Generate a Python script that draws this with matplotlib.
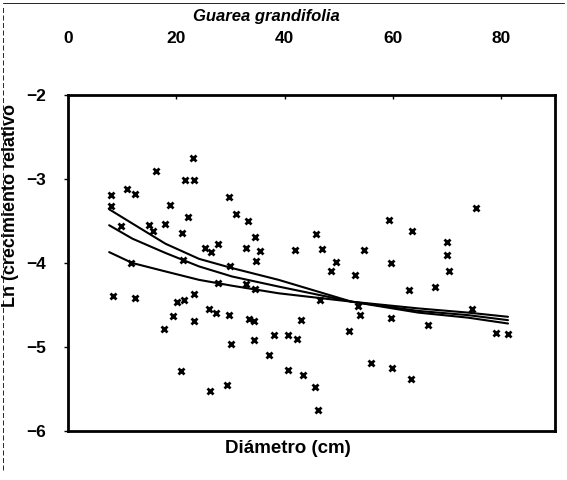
import matplotlib
matplotlib.use('Agg')
import matplotlib.pyplot as plt
from matplotlib.lines import Line2D

plt.rcParams['font.family'] = ['Liberation Sans', 'DejaVu Sans']

# ============================================================
# DATA
# ============================================================
diametro = [23.1, 16.2, 21.7, 23.2, 7.9, 10.9, 12.4, 29.7, 18.8, 7.9,
            22.2, 31.1, 33.2, 9.8, 14.9, 15.7, 18.0, 21.1, 34.6, 25.4,
            26.5, 27.8, 32.9, 35.4, 21.2, 30.0, 34.7, 11.6, 27.7, 32.9,
            34.6, 8.3, 12.3, 20.1, 21.4, 23.2, 26.0, 27.3, 29.7, 19.4,
            23.2, 33.4, 34.3, 17.7, 30.1, 34.3, 20.8, 29.4, 26.3, 75.3,
            59.3, 63.6, 70.1, 70.1, 45.8, 42.0, 47.0, 54.6, 49.5, 59.7,
            70.4, 48.6, 53.1, 63.0, 67.8, 46.6, 54.0, 59.7, 66.5, 74.7,
            79.0, 81.3, 43.1, 38.0, 40.6, 42.4, 52.0, 37.2, 40.6, 43.5,
            45.7, 46.1, 55.9, 59.8, 63.3, 53.5]
ln_crec = [-2.75, -2.91, -3.01, -3.01, -3.19, -3.12, -3.18, -3.21, -3.31, -3.32,
           -3.45, -3.42, -3.50, -3.56, -3.55, -3.62, -3.53, -3.64, -3.69, -3.82,
           -3.87, -3.77, -3.82, -3.86, -3.96, -4.04, -3.98, -4.00, -4.24, -4.25,
           -4.31, -4.39, -4.42, -4.46, -4.44, -4.37, -4.55, -4.60, -4.62, -4.63,
           -4.69, -4.67, -4.69, -4.79, -4.96, -4.92, -5.29, -5.45, -5.52, -3.35,
           -3.49, -3.62, -3.75, -3.90, -3.65, -3.85, -3.83, -3.85, -3.99, -4.00,
           -4.09, -4.10, -4.14, -4.32, -4.28, -4.44, -4.62, -4.66, -4.74, -4.55,
           -4.83, -4.84, -4.68, -4.86, -4.86, -4.91, -4.81, -5.10, -5.27, -5.33,
           -5.47, -5.75, -5.19, -5.25, -5.38, -4.51]

# fitted curves, values read at these diameters
curva_x = [7.6, 11.9, 18.0, 24.2, 30.3, 38.9, 52.4, 64.7, 73.9, 81.3]
curva_log = [-3.36, -3.53, -3.77, -3.95, -4.06, -4.20, -4.46, -4.59, -4.65, -4.72]
curva_pot = [-3.55, -3.71, -3.88, -4.04, -4.16, -4.28, -4.46, -4.57, -4.62, -4.68]
curva_exp = [-3.87, -4.00, -4.10, -4.20, -4.27, -4.36, -4.46, -4.54, -4.59, -4.64]

x_ticks = [0, 20, 40, 60, 80]
y_ticks = [-6, -5, -4, -3, -2]

# ============================================================
# PLOT
# ============================================================
fig = plt.figure(figsize=(5.67, 4.80), dpi=100)
ax = fig.add_axes([0.120, 0.102, 0.859, 0.700])

for cy in (curva_log, curva_pot, curva_exp):
    ax.plot(curva_x, cy, color='black', lw=1.5, solid_capstyle='round')

ax.plot(diametro, ln_crec, linestyle='none', marker='x', color='black',
        markersize=5, markeredgewidth=2.0)

ax.set_xlim(0, 90)
ax.set_ylim(-6, -2)
ax.set_xticks(x_ticks)
ax.set_yticks(y_ticks)
ax.xaxis.tick_top()
ax.tick_params(axis='x', direction='in', length=3, width=1, pad=35,
               labelsize=12.5)
ax.tick_params(axis='y', direction='out', length=3, width=1, pad=13,
               labelsize=12.5)
for lab in ax.get_xticklabels() + ax.get_yticklabels():
    lab.set_fontweight('bold')
for sp in ax.spines.values():
    sp.set_linewidth(2.0)

ax.set_ylabel('Ln (crecimiento relativo', fontsize=13, fontweight='bold')
ax.yaxis.set_label_coords(-0.100, 0.67)
fig.text(0.470, 0.966, 'Guarea grandifolia', ha='center', va='center',
         fontsize=12, fontweight='bold', style='italic')
fig.text(0.508, 0.066, 'Diámetro (cm)', ha='center', va='center',
         fontsize=13.5, fontweight='bold')

# scan border remnants
fig.add_artist(Line2D([0.006, 0.006], [0.02, 0.99], transform=fig.transFigure,
                      color='black', lw=0.6, ls=(0, (6, 3))))
fig.add_artist(Line2D([0.006, 0.995], [0.993, 0.993], transform=fig.transFigure,
                      color='black', lw=0.6))

fig.savefig('out.png', dpi=100)
